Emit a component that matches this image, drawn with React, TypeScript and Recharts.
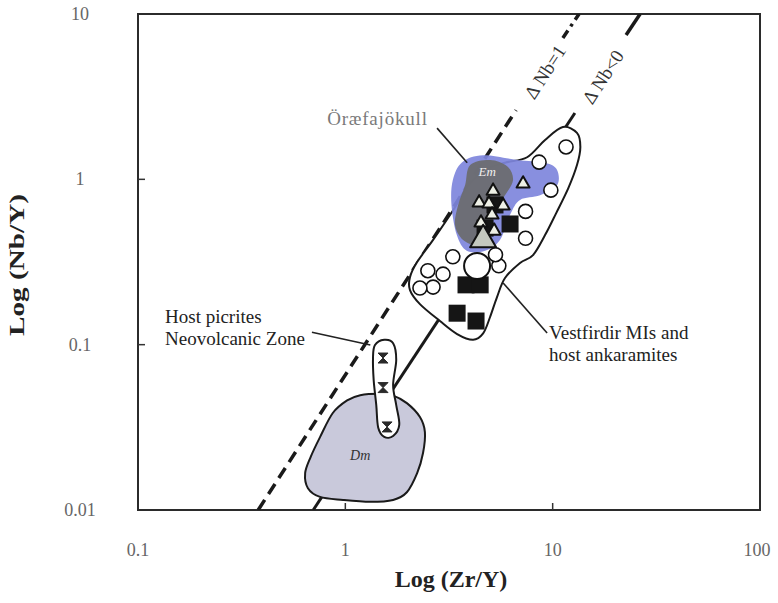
import React from "react";
import { ScatterChart, Scatter, XAxis, YAxis, ReferenceArea } from "recharts";

type Pt = { x: number; y: number };
type Note = Pt & { text: string };

const FONT = '"Liberation Serif", "Times New Roman", serif';

const xTicks = [0.1, 1, 10, 100];
const yTicks = [0.01, 0.1, 1, 10];

// ΔNb reference lines, broken where the rotated labels sit
const nb1Lower: Pt[] = [{ x: 0.38, y: 0.01 }, { x: 6.66, y: 2.62 }];
const nb1Upper: Pt[] = [{ x: 11.2, y: 7.16 }, { x: 13.4, y: 10 }];
const nb0Lower: Pt[] = [{ x: 0.7, y: 0.01 }, { x: 12.8, y: 2.52 }];
const nb0Upper: Pt[] = [{ x: 22.6, y: 7.46 }, { x: 26.4, y: 10 }];

const lineLabels: Note[] = [
  { x: 9.19, y: 4.46, text: "Δ Nb=1" },
  { x: 17.5, y: 4.16, text: "Δ Nb<0" },
];

// fields
const dmField: Pt[] = [
  { x: 1.02, y: 0.046 }, { x: 1.18, y: 0.0495 }, { x: 1.47, y: 0.0505 }, { x: 1.68, y: 0.0495 },
  { x: 1.98, y: 0.0443 }, { x: 2.29, y: 0.0365 }, { x: 2.42, y: 0.0296 }, { x: 2.37, y: 0.0221 },
  { x: 2.22, y: 0.0167 }, { x: 1.98, y: 0.0128 }, { x: 1.7, y: 0.0115 }, { x: 1.32, y: 0.0112 },
  { x: 0.975, y: 0.0115 }, { x: 0.755, y: 0.012 }, { x: 0.66, y: 0.01355 }, { x: 0.64, y: 0.0167 },
  { x: 0.68, y: 0.0209 }, { x: 0.755, y: 0.0276 }, { x: 0.87, y: 0.0386 },
];

const picriteField: Pt[] = [
  { x: 1.39, y: 0.0995 }, { x: 1.54, y: 0.107 }, { x: 1.7, y: 0.102 }, { x: 1.76, y: 0.081 },
  { x: 1.7, y: 0.057 }, { x: 1.76, y: 0.0431 }, { x: 1.82, y: 0.0327 }, { x: 1.7, y: 0.028 },
  { x: 1.54, y: 0.0277 }, { x: 1.44, y: 0.0316 }, { x: 1.41, y: 0.0431 }, { x: 1.37, y: 0.061 },
  { x: 1.36, y: 0.084 },
];

const vestfirdirField: Pt[] = [
  { x: 11.2, y: 2.07 }, { x: 13.1, y: 1.91 }, { x: 13.6, y: 1.57 }, { x: 13.1, y: 1.22 },
  { x: 11.9, y: 0.885 }, { x: 10.4, y: 0.625 }, { x: 9.19, y: 0.46 }, { x: 8.04, y: 0.348 },
  { x: 6.96, y: 0.312 }, { x: 5.89, y: 0.253 }, { x: 5.39, y: 0.194 }, { x: 4.99, y: 0.147 },
  { x: 4.62, y: 0.117 }, { x: 4.13, y: 0.107 }, { x: 3.46, y: 0.116 }, { x: 2.86, y: 0.139 },
  { x: 2.29, y: 0.176 }, { x: 2.05, y: 0.214 }, { x: 2.05, y: 0.256 }, { x: 2.22, y: 0.316 },
  { x: 2.65, y: 0.43 }, { x: 3.31, y: 0.65 }, { x: 3.87, y: 0.9 }, { x: 4.72, y: 1.14 },
  { x: 5.89, y: 1.26 }, { x: 7.53, y: 1.36 }, { x: 9.19, y: 1.73 },
];

const oraefaField: Pt[] = [
  { x: 3.66, y: 1.27 }, { x: 4.62, y: 1.4 }, { x: 6.73, y: 1.31 }, { x: 9.19, y: 1.26 },
  { x: 10.5, y: 1.14 }, { x: 10.5, y: 0.92 }, { x: 8.69, y: 0.8 }, { x: 6.96, y: 0.75 },
  { x: 6.23, y: 0.61 }, { x: 5.57, y: 0.43 }, { x: 4.72, y: 0.37 }, { x: 3.85, y: 0.37 },
  { x: 3.45, y: 0.46 }, { x: 3.25, y: 0.7 }, { x: 3.3, y: 0.99 },
];

const emField: Pt[] = [
  { x: 4.0, y: 1.22 }, { x: 4.99, y: 1.31 }, { x: 6.03, y: 1.2 }, { x: 6.44, y: 0.99 },
  { x: 5.89, y: 0.8 }, { x: 5.27, y: 0.65 }, { x: 4.99, y: 0.46 }, { x: 4.37, y: 0.4 },
  { x: 3.7, y: 0.43 }, { x: 3.38, y: 0.53 }, { x: 3.5, y: 0.7 }, { x: 3.78, y: 0.92 },
];

// samples
const picriteSamples: Pt[] = [
  { x: 1.52, y: 0.083 }, { x: 1.52, y: 0.055 }, { x: 1.59, y: 0.0318 },
];

const blackSquares: Pt[] = [
  { x: 6.23, y: 0.537 }, { x: 5.27, y: 0.7 }, { x: 4.72, y: 0.507 },
  { x: 3.82, y: 0.23 }, { x: 4.47, y: 0.23 }, { x: 3.46, y: 0.155 }, { x: 4.27, y: 0.139 },
];

const openCircles: Pt[] = [
  { x: 11.6, y: 1.57 }, { x: 8.6, y: 1.27 }, { x: 9.8, y: 0.86 }, { x: 7.4, y: 0.64 },
  { x: 7.4, y: 0.44 }, { x: 3.3, y: 0.34 }, { x: 5.5, y: 0.3 }, { x: 5.3, y: 0.35 },
  { x: 2.5, y: 0.28 }, { x: 2.96, y: 0.267 }, { x: 2.65, y: 0.223 }, { x: 2.29, y: 0.22 },
];

const bigCircle: Pt[] = [{ x: 4.32, y: 0.299 }];

const triangles: Pt[] = [
  { x: 5.16, y: 0.86 }, { x: 4.42, y: 0.73 }, { x: 4.93, y: 0.72 }, { x: 5.77, y: 0.7 },
  { x: 5.1, y: 0.617 }, { x: 4.51, y: 0.552 }, { x: 5.22, y: 0.493 }, { x: 7.2, y: 0.95 },
];

const bigTriangle: Pt[] = [{ x: 4.62, y: 0.44 }];

// annotations
const leaderOraefa: Pt[] = [{ x: 2.77, y: 2.04 }, { x: 3.87, y: 1.26 }];
const leaderPicrite: Pt[] = [{ x: 0.69, y: 0.119 }, { x: 1.32, y: 0.0995 }];
const leaderVestfirdir: Pt[] = [{ x: 5.77, y: 0.236 }, { x: 9.4, y: 0.1175 }];

const darkNotes: Note[] = [
  { x: 0.135, y: 0.135, text: "Host picrites" },
  { x: 0.135, y: 0.0995, text: "Neovolcanic Zone" },
  { x: 9.61, y: 0.108, text: "Vestfirdir MIs and" },
  { x: 9.61, y: 0.0796, text: "host ankaramites" },
];
const greyNotes: Note[] = [{ x: 0.817, y: 2.13, text: "Öræfajökull" }];
const emNote: Note[] = [{ x: 4.83, y: 1.05, text: "Em" }];
const dmNote: Note[] = [{ x: 1.18, y: 0.02, text: "Dm" }];

const smoothClosed = (pts: { x: number; y: number }[]) => {
  const n = pts.length;
  let d = `M${pts[0].x},${pts[0].y}`;
  for (let i = 0; i < n; i++) {
    const p0 = pts[(i - 1 + n) % n];
    const p1 = pts[i];
    const p2 = pts[(i + 1) % n];
    const p3 = pts[(i + 2) % n];
    const c1x = p1.x + (p2.x - p0.x) / 6;
    const c1y = p1.y + (p2.y - p0.y) / 6;
    const c2x = p2.x - (p3.x - p1.x) / 6;
    const c2y = p2.y - (p3.y - p1.y) / 6;
    d += ` C${c1x},${c1y} ${c2x},${c2y} ${p2.x},${p2.y}`;
  }
  return d + " Z";
};

const blob = (fill: string, stroke: string, strokeWidth: number, opacity = 1) => (lp: any) => (
  <path d={smoothClosed(lp.points)} fill={fill} fillOpacity={opacity} stroke={stroke} strokeWidth={strokeWidth} />
);

const none = () => <g />;

const circle = (r: number, sw: number) => (p: any) => (
  <circle cx={p.cx} cy={p.cy} r={r} fill="#fff" stroke="#111" strokeWidth={sw} />
);

const square = (s: number) => (p: any) => (
  <rect x={p.cx - s / 2} y={p.cy - s / 2} width={s} height={s} fill="#151515" />
);

const triangle = (s: number, fill: string) => (p: any) => {
  const h = s * 0.87;
  return (
    <path
      d={`M${p.cx},${p.cy - h * 0.6} L${p.cx + s / 2},${p.cy + h * 0.4} L${p.cx - s / 2},${p.cy + h * 0.4} Z`}
      fill={fill}
      stroke="#111"
      strokeWidth={2}
      strokeLinejoin="round"
    />
  );
};

const bowtie = (p: any) => (
  <path
    d={`M${p.cx - 5},${p.cy - 5} L${p.cx + 5},${p.cy - 5} L${p.cx},${p.cy} Z M${p.cx - 5},${p.cy + 5} L${p.cx + 5},${p.cy + 5} L${p.cx},${p.cy} Z`}
    fill="#2a2a2a"
    stroke="#2a2a2a"
    strokeWidth={1}
  />
);

const note = (size: number, color: string, anchor: string, italic = false, spacing = 0) => (p: any) => (
  <text
    x={p.cx}
    y={p.cy}
    textAnchor={anchor as any}
    fontFamily={FONT}
    fontSize={size}
    fontStyle={italic ? "italic" : "normal"}
    letterSpacing={spacing}
    fill={color}
  >
    {p.payload.text}
  </text>
);

const lineNote = (p: any) => (
  <text
    x={p.cx}
    y={p.cy}
    transform={`rotate(-57 ${p.cx} ${p.cy})`}
    textAnchor="middle"
    dominantBaseline="central"
    fontFamily={FONT}
    fontSize={19}
    fill="#333"
  >
    {p.payload.text}
  </text>
);

const XTick = (p: any) => {
  const v = p.payload.value;
  const inner = v > 0.1 && v < 100;
  return (
    <g>
      {inner && <line x1={p.x} y1={p.y} x2={p.x} y2={p.y - 7} stroke="#333" strokeWidth={1.5} />}
      <text x={v === 100 ? p.x - 3 : p.x} y={p.y + 46} textAnchor="middle" fontFamily={FONT} fontSize={18} fill="#666">
        {v}
      </text>
    </g>
  );
};

const YTick = (p: any) => {
  const v = p.payload.value;
  const inner = v > 0.01 && v < 10;
  return (
    <g>
      {inner && <line x1={p.x} y1={p.y} x2={p.x + 7} y2={p.y} stroke="#333" strokeWidth={1.5} />}
      <text x={p.x - 58} y={p.y + 6} textAnchor="middle" fontFamily={FONT} fontSize={18} fill="#666">
        {v}
      </text>
    </g>
  );
};

const seg = (stroke: string, width: number, dash?: string) => ({
  stroke,
  strokeWidth: width,
  strokeDasharray: dash,
});

export default function App() {
  return (
    <div style={{ position: "absolute", left: 0, top: 0, width: 778, height: 603 }}>
      <ScatterChart width={778} height={603} margin={{ top: 14, right: 18, bottom: 0, left: 0 }}>
        <XAxis
          type="number"
          dataKey="x"
          scale="log"
          domain={[0.1, 100]}
          ticks={xTicks}
          allowDataOverflow
          height={93}
          axisLine={false}
          tickLine={false}
          tickSize={0}
          tickMargin={0}
          tick={XTick}
          interval={0}
          label={{
            content: (lp: any) => {
              const vb = lp.viewBox;
              return (
                <text
                  x={vb.x + vb.width / 2 + 2}
                  y={vb.y + 77}
                  textAnchor="middle"
                  fontFamily={FONT}
                  fontWeight="bold"
                  fontSize={24}
                  fill="#222"
                >
                  Log (Zr/Y)
                </text>
              );
            },
          }}
        />
        <YAxis
          type="number"
          dataKey="y"
          scale="log"
          domain={[0.01, 10]}
          ticks={yTicks}
          allowDataOverflow
          width={138}
          axisLine={false}
          tickLine={false}
          tickSize={0}
          tickMargin={0}
          tick={YTick}
          interval={0}
          label={{
            content: (lp: any) => {
              const vb = lp.viewBox;
              const cy = vb.y + vb.height / 2 + 3;
              return (
                <text
                  transform={`translate(${vb.x + 24}, ${cy}) rotate(-90)`}
                  textAnchor="middle"
                  fontFamily={FONT}
                  fontWeight="bold"
                  fontSize={22}
                  textLength={142}
                  lengthAdjust="spacingAndGlyphs"
                  fill="#222"
                >
                  Log (Nb/Y)
                </text>
              );
            },
          }}
        />
        <ReferenceArea
          x1={0.1}
          x2={100}
          y1={0.01}
          y2={10}
          fill="none"
          fillOpacity={0}
          stroke="#2b2b2b"
          strokeWidth={2}
          ifOverflow="visible"
        />

        <Scatter data={nb1Lower} shape={none} line={seg("#1a1a1a", 3.5, "12 7")} isAnimationActive={false} />
        <Scatter data={nb1Upper} shape={none} line={seg("#1a1a1a", 3.5, "9 5 3 5")} isAnimationActive={false} />
        <Scatter data={nb0Lower} shape={none} line={seg("#1a1a1a", 3)} isAnimationActive={false} />
        <Scatter data={nb0Upper} shape={none} line={seg("#1a1a1a", 3.5)} isAnimationActive={false} />

        <Scatter data={dmField} shape={none} line={blob("#c9c9db", "#1a1a1a", 2)} isAnimationActive={false} />
        <Scatter data={picriteField} shape={none} line={blob("#ffffff", "#1a1a1a", 2)} isAnimationActive={false} />
        <Scatter data={picriteSamples} shape={bowtie} isAnimationActive={false} />
        <Scatter data={vestfirdirField} shape={none} line={blob("#ffffff", "#1a1a1a", 2)} isAnimationActive={false} />
        <Scatter data={oraefaField} shape={none} line={blob("#7e86dc", "none", 0, 0.92)} isAnimationActive={false} />
        <Scatter data={emField} shape={none} line={blob("#6c6d70", "none", 0, 0.95)} isAnimationActive={false} />

        <Scatter data={blackSquares} shape={square(17)} isAnimationActive={false} />
        <Scatter data={openCircles} shape={circle(7, 1.6)} isAnimationActive={false} />
        <Scatter data={bigCircle} shape={circle(13, 2)} isAnimationActive={false} />
        <Scatter data={triangles} shape={triangle(13, "#eef0e6")} isAnimationActive={false} />
        <Scatter data={bigTriangle} shape={triangle(26, "#c4c8bf")} isAnimationActive={false} />

        <Scatter data={leaderOraefa} shape={none} line={seg("#222", 1.6)} isAnimationActive={false} />
        <Scatter data={leaderPicrite} shape={none} line={seg("#222", 1.6)} isAnimationActive={false} />
        <Scatter data={leaderVestfirdir} shape={none} line={seg("#222", 1.6)} isAnimationActive={false} />

        <Scatter data={darkNotes} shape={note(19, "#222", "start")} isAnimationActive={false} />
        <Scatter data={greyNotes} shape={note(19, "#7a7a7a", "start", false, 0.8)} isAnimationActive={false} />
        <Scatter data={emNote} shape={note(13, "#f0f0f0", "middle", true)} isAnimationActive={false} />
        <Scatter data={dmNote} shape={note(14, "#333", "middle", true)} isAnimationActive={false} />
        <Scatter data={lineLabels} shape={lineNote} isAnimationActive={false} />
      </ScatterChart>
    </div>
  );
}
